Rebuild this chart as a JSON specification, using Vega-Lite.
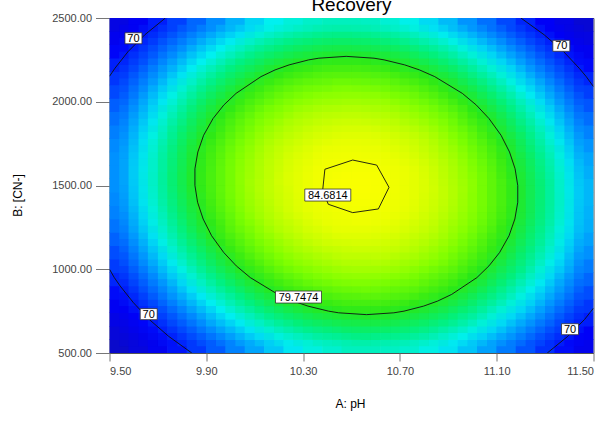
{
"$schema":"https://vega.github.io/schema/vega-lite/v6.json",
"width":484,"height":335,
"autosize":{"type":"none"},
"padding":{"left":109.5,"top":18,"right":11.5,"bottom":76},
"background":"white",
"title":{"text":"Recovery","fontSize":19,"font":"Liberation Sans","fontWeight":"normal","color":"#000","offset":-3,"anchor":"middle"},
"config":{"view":{"stroke":"#555","strokeWidth":1},"axis":{"domain":false,"grid":false,"tickColor":"#777","labelColor":"#444","labelFont":"Liberation Sans","labelFontSize":11,"titleFont":"Liberation Sans","titleFontSize":12,"titleFontWeight":"normal","titleColor":"#000"}},
"encoding":{
"x":{"field":"x","type":"quantitative","scale":{"domain":[9.5,11.5],"nice":false,"zero":false},"axis":{"title":"A: pH","values":[9.5,9.9,10.3,10.7,11.1,11.5],"format":".2f","tickSize":8,"labelPadding":4,"titleX":240.5,"titleY":50,"titleBaseline":"middle"}},
"y":{"field":"y","type":"quantitative","scale":{"domain":[500,2500],"nice":false,"zero":false},"axis":{"title":"B: [CN-]","values":[500,1000,1500,2000,2500],"format":".2f","tickSize":14,"labelPadding":4,"titleX":-92.5,"titleY":177,"titleBaseline":"middle","titleAlign":"center","titleAngle":-90}},
"color":{"field":"v","type":"quantitative","legend":null,"scale":{"domain":[62,69,72,74,76,78,80,82,83.2,84.3,85],"range":["#1010b0","#0000f8","#0050ff","#0098ff","#00f0f0","#00f080","#28e818","#80ff00","#b8ff00","#e8ff00","#fcff00"],"interpolate":"rgb"}}
},
"layer":[
{"data":{"values":[
{"x":9.54,"y":540,"v":64.6},{"x":9.62,"y":540,"v":66.4},{"x":9.70,"y":540,"v":68.1},{"x":9.78,"y":540,"v":69.7},{"x":9.86,"y":540,"v":71.1},{"x":9.94,"y":540,"v":72.3},{"x":10.02,"y":540,"v":73.4},{"x":10.10,"y":540,"v":74.3},{"x":10.18,"y":540,"v":75.1},{"x":10.26,"y":540,"v":75.8},{"x":10.34,"y":540,"v":76.3},{"x":10.42,"y":540,"v":76.6},{"x":10.50,"y":540,"v":76.9},{"x":10.58,"y":540,"v":76.9},{"x":10.66,"y":540,"v":76.8},{"x":10.74,"y":540,"v":76.6},{"x":10.82,"y":540,"v":76.2},{"x":10.90,"y":540,"v":75.7},{"x":10.98,"y":540,"v":75.0},{"x":11.06,"y":540,"v":74.2},{"x":11.14,"y":540,"v":73.2},{"x":11.22,"y":540,"v":72.1},{"x":11.30,"y":540,"v":70.8},{"x":11.38,"y":540,"v":69.4},{"x":11.46,"y":540,"v":67.8},
{"x":9.54,"y":620,"v":66.0},{"x":9.62,"y":620,"v":67.8},{"x":9.70,"y":620,"v":69.5},{"x":9.78,"y":620,"v":71.0},{"x":9.86,"y":620,"v":72.4},{"x":9.94,"y":620,"v":73.6},{"x":10.02,"y":620,"v":74.7},{"x":10.10,"y":620,"v":75.7},{"x":10.18,"y":620,"v":76.5},{"x":10.26,"y":620,"v":77.1},{"x":10.34,"y":620,"v":77.6},{"x":10.42,"y":620,"v":77.9},{"x":10.50,"y":620,"v":78.2},{"x":10.58,"y":620,"v":78.2},{"x":10.66,"y":620,"v":78.1},{"x":10.74,"y":620,"v":77.9},{"x":10.82,"y":620,"v":77.5},{"x":10.90,"y":620,"v":76.9},{"x":10.98,"y":620,"v":76.2},{"x":11.06,"y":620,"v":75.4},{"x":11.14,"y":620,"v":74.4},{"x":11.22,"y":620,"v":73.3},{"x":11.30,"y":620,"v":72.0},{"x":11.38,"y":620,"v":70.6},{"x":11.46,"y":620,"v":69.0},
{"x":9.54,"y":700,"v":67.2},{"x":9.62,"y":700,"v":69.1},{"x":9.70,"y":700,"v":70.7},{"x":9.78,"y":700,"v":72.3},{"x":9.86,"y":700,"v":73.6},{"x":9.94,"y":700,"v":74.9},{"x":10.02,"y":700,"v":75.9},{"x":10.10,"y":700,"v":76.9},{"x":10.18,"y":700,"v":77.7},{"x":10.26,"y":700,"v":78.3},{"x":10.34,"y":700,"v":78.8},{"x":10.42,"y":700,"v":79.1},{"x":10.50,"y":700,"v":79.3},{"x":10.58,"y":700,"v":79.4},{"x":10.66,"y":700,"v":79.3},{"x":10.74,"y":700,"v":79.0},{"x":10.82,"y":700,"v":78.6},{"x":10.90,"y":700,"v":78.1},{"x":10.98,"y":700,"v":77.4},{"x":11.06,"y":700,"v":76.5},{"x":11.14,"y":700,"v":75.5},{"x":11.22,"y":700,"v":74.4},{"x":11.30,"y":700,"v":73.1},{"x":11.38,"y":700,"v":71.6},{"x":11.46,"y":700,"v":70.1},
{"x":9.54,"y":780,"v":68.4},{"x":9.62,"y":780,"v":70.2},{"x":9.70,"y":780,"v":71.9},{"x":9.78,"y":780,"v":73.4},{"x":9.86,"y":780,"v":74.8},{"x":9.94,"y":780,"v":76.0},{"x":10.02,"y":780,"v":77.1},{"x":10.10,"y":780,"v":78.0},{"x":10.18,"y":780,"v":78.8},{"x":10.26,"y":780,"v":79.4},{"x":10.34,"y":780,"v":79.9},{"x":10.42,"y":780,"v":80.2},{"x":10.50,"y":780,"v":80.4},{"x":10.58,"y":780,"v":80.4},{"x":10.66,"y":780,"v":80.3},{"x":10.74,"y":780,"v":80.0},{"x":10.82,"y":780,"v":79.6},{"x":10.90,"y":780,"v":79.1},{"x":10.98,"y":780,"v":78.4},{"x":11.06,"y":780,"v":77.5},{"x":11.14,"y":780,"v":76.5},{"x":11.22,"y":780,"v":75.4},{"x":11.30,"y":780,"v":74.1},{"x":11.38,"y":780,"v":72.6},{"x":11.46,"y":780,"v":71.0},
{"x":9.54,"y":860,"v":69.4},{"x":9.62,"y":860,"v":71.2},{"x":9.70,"y":860,"v":72.9},{"x":9.78,"y":860,"v":74.4},{"x":9.86,"y":860,"v":75.8},{"x":9.94,"y":860,"v":77.0},{"x":10.02,"y":860,"v":78.0},{"x":10.10,"y":860,"v":79.0},{"x":10.18,"y":860,"v":79.7},{"x":10.26,"y":860,"v":80.4},{"x":10.34,"y":860,"v":80.8},{"x":10.42,"y":860,"v":81.1},{"x":10.50,"y":860,"v":81.3},{"x":10.58,"y":860,"v":81.4},{"x":10.66,"y":860,"v":81.2},{"x":10.74,"y":860,"v":81.0},{"x":10.82,"y":860,"v":80.5},{"x":10.90,"y":860,"v":80.0},{"x":10.98,"y":860,"v":79.3},{"x":11.06,"y":860,"v":78.4},{"x":11.14,"y":860,"v":77.4},{"x":11.22,"y":860,"v":76.2},{"x":11.30,"y":860,"v":74.9},{"x":11.38,"y":860,"v":73.5},{"x":11.46,"y":860,"v":71.9},
{"x":9.54,"y":940,"v":70.4},{"x":9.62,"y":940,"v":72.2},{"x":9.70,"y":940,"v":73.8},{"x":9.78,"y":940,"v":75.3},{"x":9.86,"y":940,"v":76.7},{"x":9.94,"y":940,"v":77.9},{"x":10.02,"y":940,"v":78.9},{"x":10.10,"y":940,"v":79.8},{"x":10.18,"y":940,"v":80.6},{"x":10.26,"y":940,"v":81.2},{"x":10.34,"y":940,"v":81.7},{"x":10.42,"y":940,"v":82.0},{"x":10.50,"y":940,"v":82.2},{"x":10.58,"y":940,"v":82.2},{"x":10.66,"y":940,"v":82.0},{"x":10.74,"y":940,"v":81.8},{"x":10.82,"y":940,"v":81.3},{"x":10.90,"y":940,"v":80.8},{"x":10.98,"y":940,"v":80.0},{"x":11.06,"y":940,"v":79.2},{"x":11.14,"y":940,"v":78.2},{"x":11.22,"y":940,"v":77.0},{"x":11.30,"y":940,"v":75.7},{"x":11.38,"y":940,"v":74.2},{"x":11.46,"y":940,"v":72.6},
{"x":9.54,"y":1020,"v":71.2},{"x":9.62,"y":1020,"v":73.0},{"x":9.70,"y":1020,"v":74.6},{"x":9.78,"y":1020,"v":76.1},{"x":9.86,"y":1020,"v":77.5},{"x":9.94,"y":1020,"v":78.7},{"x":10.02,"y":1020,"v":79.7},{"x":10.10,"y":1020,"v":80.6},{"x":10.18,"y":1020,"v":81.4},{"x":10.26,"y":1020,"v":82.0},{"x":10.34,"y":1020,"v":82.4},{"x":10.42,"y":1020,"v":82.7},{"x":10.50,"y":1020,"v":82.9},{"x":10.58,"y":1020,"v":82.9},{"x":10.66,"y":1020,"v":82.8},{"x":10.74,"y":1020,"v":82.5},{"x":10.82,"y":1020,"v":82.0},{"x":10.90,"y":1020,"v":81.5},{"x":10.98,"y":1020,"v":80.7},{"x":11.06,"y":1020,"v":79.8},{"x":11.14,"y":1020,"v":78.8},{"x":11.22,"y":1020,"v":77.7},{"x":11.30,"y":1020,"v":76.3},{"x":11.38,"y":1020,"v":74.9},{"x":11.46,"y":1020,"v":73.2},
{"x":9.54,"y":1100,"v":71.9},{"x":9.62,"y":1100,"v":73.7},{"x":9.70,"y":1100,"v":75.3},{"x":9.78,"y":1100,"v":76.8},{"x":9.86,"y":1100,"v":78.1},{"x":9.94,"y":1100,"v":79.3},{"x":10.02,"y":1100,"v":80.4},{"x":10.10,"y":1100,"v":81.3},{"x":10.18,"y":1100,"v":82.0},{"x":10.26,"y":1100,"v":82.6},{"x":10.34,"y":1100,"v":83.0},{"x":10.42,"y":1100,"v":83.3},{"x":10.50,"y":1100,"v":83.5},{"x":10.58,"y":1100,"v":83.5},{"x":10.66,"y":1100,"v":83.4},{"x":10.74,"y":1100,"v":83.1},{"x":10.82,"y":1100,"v":82.6},{"x":10.90,"y":1100,"v":82.0},{"x":10.98,"y":1100,"v":81.3},{"x":11.06,"y":1100,"v":80.4},{"x":11.14,"y":1100,"v":79.4},{"x":11.22,"y":1100,"v":78.2},{"x":11.30,"y":1100,"v":76.9},{"x":11.38,"y":1100,"v":75.4},{"x":11.46,"y":1100,"v":73.8},
{"x":9.54,"y":1180,"v":72.5},{"x":9.62,"y":1180,"v":74.3},{"x":9.70,"y":1180,"v":75.9},{"x":9.78,"y":1180,"v":77.4},{"x":9.86,"y":1180,"v":78.7},{"x":9.94,"y":1180,"v":79.9},{"x":10.02,"y":1180,"v":80.9},{"x":10.10,"y":1180,"v":81.8},{"x":10.18,"y":1180,"v":82.5},{"x":10.26,"y":1180,"v":83.1},{"x":10.34,"y":1180,"v":83.6},{"x":10.42,"y":1180,"v":83.9},{"x":10.50,"y":1180,"v":84.0},{"x":10.58,"y":1180,"v":84.0},{"x":10.66,"y":1180,"v":83.8},{"x":10.74,"y":1180,"v":83.5},{"x":10.82,"y":1180,"v":83.1},{"x":10.90,"y":1180,"v":82.5},{"x":10.98,"y":1180,"v":81.7},{"x":11.06,"y":1180,"v":80.8},{"x":11.14,"y":1180,"v":79.8},{"x":11.22,"y":1180,"v":78.6},{"x":11.30,"y":1180,"v":77.3},{"x":11.38,"y":1180,"v":75.8},{"x":11.46,"y":1180,"v":74.2},
{"x":9.54,"y":1260,"v":73.0},{"x":9.62,"y":1260,"v":74.8},{"x":9.70,"y":1260,"v":76.4},{"x":9.78,"y":1260,"v":77.8},{"x":9.86,"y":1260,"v":79.2},{"x":9.94,"y":1260,"v":80.3},{"x":10.02,"y":1260,"v":81.4},{"x":10.10,"y":1260,"v":82.2},{"x":10.18,"y":1260,"v":83.0},{"x":10.26,"y":1260,"v":83.5},{"x":10.34,"y":1260,"v":84.0},{"x":10.42,"y":1260,"v":84.3},{"x":10.50,"y":1260,"v":84.4},{"x":10.58,"y":1260,"v":84.4},{"x":10.66,"y":1260,"v":84.2},{"x":10.74,"y":1260,"v":83.9},{"x":10.82,"y":1260,"v":83.5},{"x":10.90,"y":1260,"v":82.8},{"x":10.98,"y":1260,"v":82.1},{"x":11.06,"y":1260,"v":81.2},{"x":11.14,"y":1260,"v":80.1},{"x":11.22,"y":1260,"v":78.9},{"x":11.30,"y":1260,"v":77.6},{"x":11.38,"y":1260,"v":76.1},{"x":11.46,"y":1260,"v":74.5},
{"x":9.54,"y":1340,"v":73.4},{"x":9.62,"y":1340,"v":75.1},{"x":9.70,"y":1340,"v":76.7},{"x":9.78,"y":1340,"v":78.2},{"x":9.86,"y":1340,"v":79.5},{"x":9.94,"y":1340,"v":80.7},{"x":10.02,"y":1340,"v":81.7},{"x":10.10,"y":1340,"v":82.6},{"x":10.18,"y":1340,"v":83.3},{"x":10.26,"y":1340,"v":83.9},{"x":10.34,"y":1340,"v":84.3},{"x":10.42,"y":1340,"v":84.5},{"x":10.50,"y":1340,"v":84.7},{"x":10.58,"y":1340,"v":84.6},{"x":10.66,"y":1340,"v":84.5},{"x":10.74,"y":1340,"v":84.2},{"x":10.82,"y":1340,"v":83.7},{"x":10.90,"y":1340,"v":83.1},{"x":10.98,"y":1340,"v":82.3},{"x":11.06,"y":1340,"v":81.4},{"x":11.14,"y":1340,"v":80.4},{"x":11.22,"y":1340,"v":79.2},{"x":11.30,"y":1340,"v":77.8},{"x":11.38,"y":1340,"v":76.3},{"x":11.46,"y":1340,"v":74.6},
{"x":9.54,"y":1420,"v":73.6},{"x":9.62,"y":1420,"v":75.4},{"x":9.70,"y":1420,"v":77.0},{"x":9.78,"y":1420,"v":78.4},{"x":9.86,"y":1420,"v":79.7},{"x":9.94,"y":1420,"v":80.9},{"x":10.02,"y":1420,"v":81.9},{"x":10.10,"y":1420,"v":82.8},{"x":10.18,"y":1420,"v":83.5},{"x":10.26,"y":1420,"v":84.0},{"x":10.34,"y":1420,"v":84.4},{"x":10.42,"y":1420,"v":84.7},{"x":10.50,"y":1420,"v":84.8},{"x":10.58,"y":1420,"v":84.8},{"x":10.66,"y":1420,"v":84.6},{"x":10.74,"y":1420,"v":84.3},{"x":10.82,"y":1420,"v":83.8},{"x":10.90,"y":1420,"v":83.2},{"x":10.98,"y":1420,"v":82.4},{"x":11.06,"y":1420,"v":81.5},{"x":11.14,"y":1420,"v":80.5},{"x":11.22,"y":1420,"v":79.2},{"x":11.30,"y":1420,"v":77.9},{"x":11.38,"y":1420,"v":76.4},{"x":11.46,"y":1420,"v":74.7},
{"x":9.54,"y":1500,"v":73.8},{"x":9.62,"y":1500,"v":75.5},{"x":9.70,"y":1500,"v":77.1},{"x":9.78,"y":1500,"v":78.6},{"x":9.86,"y":1500,"v":79.9},{"x":9.94,"y":1500,"v":81.0},{"x":10.02,"y":1500,"v":82.0},{"x":10.10,"y":1500,"v":82.9},{"x":10.18,"y":1500,"v":83.6},{"x":10.26,"y":1500,"v":84.1},{"x":10.34,"y":1500,"v":84.5},{"x":10.42,"y":1500,"v":84.8},{"x":10.50,"y":1500,"v":84.9},{"x":10.58,"y":1500,"v":84.9},{"x":10.66,"y":1500,"v":84.7},{"x":10.74,"y":1500,"v":84.3},{"x":10.82,"y":1500,"v":83.9},{"x":10.90,"y":1500,"v":83.2},{"x":10.98,"y":1500,"v":82.5},{"x":11.06,"y":1500,"v":81.5},{"x":11.14,"y":1500,"v":80.5},{"x":11.22,"y":1500,"v":79.2},{"x":11.30,"y":1500,"v":77.9},{"x":11.38,"y":1500,"v":76.3},{"x":11.46,"y":1500,"v":74.7},
{"x":9.54,"y":1580,"v":73.8},{"x":9.62,"y":1580,"v":75.6},{"x":9.70,"y":1580,"v":77.1},{"x":9.78,"y":1580,"v":78.6},{"x":9.86,"y":1580,"v":79.9},{"x":9.94,"y":1580,"v":81.0},{"x":10.02,"y":1580,"v":82.0},{"x":10.10,"y":1580,"v":82.8},{"x":10.18,"y":1580,"v":83.5},{"x":10.26,"y":1580,"v":84.1},{"x":10.34,"y":1580,"v":84.5},{"x":10.42,"y":1580,"v":84.7},{"x":10.50,"y":1580,"v":84.8},{"x":10.58,"y":1580,"v":84.8},{"x":10.66,"y":1580,"v":84.6},{"x":10.74,"y":1580,"v":84.3},{"x":10.82,"y":1580,"v":83.8},{"x":10.90,"y":1580,"v":83.1},{"x":10.98,"y":1580,"v":82.3},{"x":11.06,"y":1580,"v":81.4},{"x":11.14,"y":1580,"v":80.3},{"x":11.22,"y":1580,"v":79.1},{"x":11.30,"y":1580,"v":77.7},{"x":11.38,"y":1580,"v":76.2},{"x":11.46,"y":1580,"v":74.5},
{"x":9.54,"y":1660,"v":73.8},{"x":9.62,"y":1660,"v":75.5},{"x":9.70,"y":1660,"v":77.1},{"x":9.78,"y":1660,"v":78.5},{"x":9.86,"y":1660,"v":79.8},{"x":9.94,"y":1660,"v":80.9},{"x":10.02,"y":1660,"v":81.9},{"x":10.10,"y":1660,"v":82.7},{"x":10.18,"y":1660,"v":83.4},{"x":10.26,"y":1660,"v":84.0},{"x":10.34,"y":1660,"v":84.3},{"x":10.42,"y":1660,"v":84.6},{"x":10.50,"y":1660,"v":84.7},{"x":10.58,"y":1660,"v":84.6},{"x":10.66,"y":1660,"v":84.4},{"x":10.74,"y":1660,"v":84.1},{"x":10.82,"y":1660,"v":83.6},{"x":10.90,"y":1660,"v":82.9},{"x":10.98,"y":1660,"v":82.1},{"x":11.06,"y":1660,"v":81.2},{"x":11.14,"y":1660,"v":80.1},{"x":11.22,"y":1660,"v":78.9},{"x":11.30,"y":1660,"v":77.5},{"x":11.38,"y":1660,"v":75.9},{"x":11.46,"y":1660,"v":74.3},
{"x":9.54,"y":1740,"v":73.6},{"x":9.62,"y":1740,"v":75.3},{"x":9.70,"y":1740,"v":76.9},{"x":9.78,"y":1740,"v":78.3},{"x":9.86,"y":1740,"v":79.6},{"x":9.94,"y":1740,"v":80.7},{"x":10.02,"y":1740,"v":81.7},{"x":10.10,"y":1740,"v":82.5},{"x":10.18,"y":1740,"v":83.2},{"x":10.26,"y":1740,"v":83.7},{"x":10.34,"y":1740,"v":84.1},{"x":10.42,"y":1740,"v":84.3},{"x":10.50,"y":1740,"v":84.4},{"x":10.58,"y":1740,"v":84.3},{"x":10.66,"y":1740,"v":84.1},{"x":10.74,"y":1740,"v":83.8},{"x":10.82,"y":1740,"v":83.3},{"x":10.90,"y":1740,"v":82.6},{"x":10.98,"y":1740,"v":81.8},{"x":11.06,"y":1740,"v":80.9},{"x":11.14,"y":1740,"v":79.8},{"x":11.22,"y":1740,"v":78.5},{"x":11.30,"y":1740,"v":77.1},{"x":11.38,"y":1740,"v":75.6},{"x":11.46,"y":1740,"v":73.9},
{"x":9.54,"y":1820,"v":73.3},{"x":9.62,"y":1820,"v":75.0},{"x":9.70,"y":1820,"v":76.5},{"x":9.78,"y":1820,"v":78.0},{"x":9.86,"y":1820,"v":79.2},{"x":9.94,"y":1820,"v":80.3},{"x":10.02,"y":1820,"v":81.3},{"x":10.10,"y":1820,"v":82.1},{"x":10.18,"y":1820,"v":82.8},{"x":10.26,"y":1820,"v":83.3},{"x":10.34,"y":1820,"v":83.7},{"x":10.42,"y":1820,"v":83.9},{"x":10.50,"y":1820,"v":84.0},{"x":10.58,"y":1820,"v":84.0},{"x":10.66,"y":1820,"v":83.7},{"x":10.74,"y":1820,"v":83.4},{"x":10.82,"y":1820,"v":82.9},{"x":10.90,"y":1820,"v":82.2},{"x":10.98,"y":1820,"v":81.4},{"x":11.06,"y":1820,"v":80.4},{"x":11.14,"y":1820,"v":79.3},{"x":11.22,"y":1820,"v":78.1},{"x":11.30,"y":1820,"v":76.7},{"x":11.38,"y":1820,"v":75.1},{"x":11.46,"y":1820,"v":73.4},
{"x":9.54,"y":1900,"v":72.9},{"x":9.62,"y":1900,"v":74.6},{"x":9.70,"y":1900,"v":76.1},{"x":9.78,"y":1900,"v":77.5},{"x":9.86,"y":1900,"v":78.8},{"x":9.94,"y":1900,"v":79.9},{"x":10.02,"y":1900,"v":80.9},{"x":10.10,"y":1900,"v":81.7},{"x":10.18,"y":1900,"v":82.3},{"x":10.26,"y":1900,"v":82.9},{"x":10.34,"y":1900,"v":83.2},{"x":10.42,"y":1900,"v":83.4},{"x":10.50,"y":1900,"v":83.5},{"x":10.58,"y":1900,"v":83.4},{"x":10.66,"y":1900,"v":83.2},{"x":10.74,"y":1900,"v":82.8},{"x":10.82,"y":1900,"v":82.3},{"x":10.90,"y":1900,"v":81.7},{"x":10.98,"y":1900,"v":80.8},{"x":11.06,"y":1900,"v":79.9},{"x":11.14,"y":1900,"v":78.8},{"x":11.22,"y":1900,"v":77.5},{"x":11.30,"y":1900,"v":76.1},{"x":11.38,"y":1900,"v":74.5},{"x":11.46,"y":1900,"v":72.8},
{"x":9.54,"y":1980,"v":72.4},{"x":9.62,"y":1980,"v":74.1},{"x":9.70,"y":1980,"v":75.6},{"x":9.78,"y":1980,"v":77.0},{"x":9.86,"y":1980,"v":78.3},{"x":9.94,"y":1980,"v":79.4},{"x":10.02,"y":1980,"v":80.3},{"x":10.10,"y":1980,"v":81.1},{"x":10.18,"y":1980,"v":81.8},{"x":10.26,"y":1980,"v":82.3},{"x":10.34,"y":1980,"v":82.6},{"x":10.42,"y":1980,"v":82.8},{"x":10.50,"y":1980,"v":82.9},{"x":10.58,"y":1980,"v":82.8},{"x":10.66,"y":1980,"v":82.6},{"x":10.74,"y":1980,"v":82.2},{"x":10.82,"y":1980,"v":81.7},{"x":10.90,"y":1980,"v":81.0},{"x":10.98,"y":1980,"v":80.2},{"x":11.06,"y":1980,"v":79.2},{"x":11.14,"y":1980,"v":78.1},{"x":11.22,"y":1980,"v":76.8},{"x":11.30,"y":1980,"v":75.4},{"x":11.38,"y":1980,"v":73.8},{"x":11.46,"y":1980,"v":72.1},
{"x":9.54,"y":2060,"v":71.7},{"x":9.62,"y":2060,"v":73.4},{"x":9.70,"y":2060,"v":75.0},{"x":9.78,"y":2060,"v":76.4},{"x":9.86,"y":2060,"v":77.6},{"x":9.94,"y":2060,"v":78.7},{"x":10.02,"y":2060,"v":79.6},{"x":10.10,"y":2060,"v":80.4},{"x":10.18,"y":2060,"v":81.1},{"x":10.26,"y":2060,"v":81.6},{"x":10.34,"y":2060,"v":81.9},{"x":10.42,"y":2060,"v":82.1},{"x":10.50,"y":2060,"v":82.2},{"x":10.58,"y":2060,"v":82.1},{"x":10.66,"y":2060,"v":81.8},{"x":10.74,"y":2060,"v":81.5},{"x":10.82,"y":2060,"v":80.9},{"x":10.90,"y":2060,"v":80.2},{"x":10.98,"y":2060,"v":79.4},{"x":11.06,"y":2060,"v":78.4},{"x":11.14,"y":2060,"v":77.3},{"x":11.22,"y":2060,"v":76.0},{"x":11.30,"y":2060,"v":74.6},{"x":11.38,"y":2060,"v":73.0},{"x":11.46,"y":2060,"v":71.3},
{"x":9.54,"y":2140,"v":71.0},{"x":9.62,"y":2140,"v":72.7},{"x":9.70,"y":2140,"v":74.2},{"x":9.78,"y":2140,"v":75.6},{"x":9.86,"y":2140,"v":76.8},{"x":9.94,"y":2140,"v":77.9},{"x":10.02,"y":2140,"v":78.8},{"x":10.10,"y":2140,"v":79.6},{"x":10.18,"y":2140,"v":80.3},{"x":10.26,"y":2140,"v":80.8},{"x":10.34,"y":2140,"v":81.1},{"x":10.42,"y":2140,"v":81.3},{"x":10.50,"y":2140,"v":81.3},{"x":10.58,"y":2140,"v":81.2},{"x":10.66,"y":2140,"v":81.0},{"x":10.74,"y":2140,"v":80.6},{"x":10.82,"y":2140,"v":80.1},{"x":10.90,"y":2140,"v":79.4},{"x":10.98,"y":2140,"v":78.5},{"x":11.06,"y":2140,"v":77.5},{"x":11.14,"y":2140,"v":76.4},{"x":11.22,"y":2140,"v":75.1},{"x":11.30,"y":2140,"v":73.7},{"x":11.38,"y":2140,"v":72.1},{"x":11.46,"y":2140,"v":70.4},
{"x":9.54,"y":2220,"v":70.2},{"x":9.62,"y":2220,"v":71.8},{"x":9.70,"y":2220,"v":73.4},{"x":9.78,"y":2220,"v":74.7},{"x":9.86,"y":2220,"v":76.0},{"x":9.94,"y":2220,"v":77.0},{"x":10.02,"y":2220,"v":78.0},{"x":10.10,"y":2220,"v":78.7},{"x":10.18,"y":2220,"v":79.4},{"x":10.26,"y":2220,"v":79.9},{"x":10.34,"y":2220,"v":80.2},{"x":10.42,"y":2220,"v":80.4},{"x":10.50,"y":2220,"v":80.4},{"x":10.58,"y":2220,"v":80.3},{"x":10.66,"y":2220,"v":80.0},{"x":10.74,"y":2220,"v":79.6},{"x":10.82,"y":2220,"v":79.1},{"x":10.90,"y":2220,"v":78.4},{"x":10.98,"y":2220,"v":77.5},{"x":11.06,"y":2220,"v":76.5},{"x":11.14,"y":2220,"v":75.4},{"x":11.22,"y":2220,"v":74.1},{"x":11.30,"y":2220,"v":72.7},{"x":11.38,"y":2220,"v":71.1},{"x":11.46,"y":2220,"v":69.3},
{"x":9.54,"y":2300,"v":69.2},{"x":9.62,"y":2300,"v":70.9},{"x":9.70,"y":2300,"v":72.4},{"x":9.78,"y":2300,"v":73.7},{"x":9.86,"y":2300,"v":75.0},{"x":9.94,"y":2300,"v":76.0},{"x":10.02,"y":2300,"v":76.9},{"x":10.10,"y":2300,"v":77.7},{"x":10.18,"y":2300,"v":78.3},{"x":10.26,"y":2300,"v":78.8},{"x":10.34,"y":2300,"v":79.1},{"x":10.42,"y":2300,"v":79.3},{"x":10.50,"y":2300,"v":79.3},{"x":10.58,"y":2300,"v":79.2},{"x":10.66,"y":2300,"v":79.0},{"x":10.74,"y":2300,"v":78.6},{"x":10.82,"y":2300,"v":78.0},{"x":10.90,"y":2300,"v":77.3},{"x":10.98,"y":2300,"v":76.4},{"x":11.06,"y":2300,"v":75.4},{"x":11.14,"y":2300,"v":74.3},{"x":11.22,"y":2300,"v":73.0},{"x":11.30,"y":2300,"v":71.5},{"x":11.38,"y":2300,"v":69.9},{"x":11.46,"y":2300,"v":68.2},
{"x":9.54,"y":2380,"v":68.1},{"x":9.62,"y":2380,"v":69.8},{"x":9.70,"y":2380,"v":71.3},{"x":9.78,"y":2380,"v":72.6},{"x":9.86,"y":2380,"v":73.9},{"x":9.94,"y":2380,"v":74.9},{"x":10.02,"y":2380,"v":75.8},{"x":10.10,"y":2380,"v":76.6},{"x":10.18,"y":2380,"v":77.2},{"x":10.26,"y":2380,"v":77.7},{"x":10.34,"y":2380,"v":78.0},{"x":10.42,"y":2380,"v":78.2},{"x":10.50,"y":2380,"v":78.2},{"x":10.58,"y":2380,"v":78.1},{"x":10.66,"y":2380,"v":77.8},{"x":10.74,"y":2380,"v":77.4},{"x":10.82,"y":2380,"v":76.8},{"x":10.90,"y":2380,"v":76.1},{"x":10.98,"y":2380,"v":75.2},{"x":11.06,"y":2380,"v":74.2},{"x":11.14,"y":2380,"v":73.0},{"x":11.22,"y":2380,"v":71.7},{"x":11.30,"y":2380,"v":70.3},{"x":11.38,"y":2380,"v":68.7},{"x":11.46,"y":2380,"v":66.9},
{"x":9.54,"y":2460,"v":67.0},{"x":9.62,"y":2460,"v":68.6},{"x":9.70,"y":2460,"v":70.1},{"x":9.78,"y":2460,"v":71.4},{"x":9.86,"y":2460,"v":72.6},{"x":9.94,"y":2460,"v":73.7},{"x":10.02,"y":2460,"v":74.6},{"x":10.10,"y":2460,"v":75.4},{"x":10.18,"y":2460,"v":76.0},{"x":10.26,"y":2460,"v":76.4},{"x":10.34,"y":2460,"v":76.7},{"x":10.42,"y":2460,"v":76.9},{"x":10.50,"y":2460,"v":76.9},{"x":10.58,"y":2460,"v":76.8},{"x":10.66,"y":2460,"v":76.5},{"x":10.74,"y":2460,"v":76.1},{"x":10.82,"y":2460,"v":75.5},{"x":10.90,"y":2460,"v":74.8},{"x":10.98,"y":2460,"v":73.9},{"x":11.06,"y":2460,"v":72.9},{"x":11.14,"y":2460,"v":71.7},{"x":11.22,"y":2460,"v":70.4},{"x":11.30,"y":2460,"v":68.9},{"x":11.38,"y":2460,"v":67.3},{"x":11.46,"y":2460,"v":65.5}
]},
"mark":{"type":"rect","width":20,"height":14,"clip":true}},
{"data":{"values":[
{"x":9.58,"y":580,"v":66.2},{"x":9.66,"y":580,"v":68.0},{"x":9.74,"y":580,"v":69.6},{"x":9.82,"y":580,"v":71.1},{"x":9.90,"y":580,"v":72.4},{"x":9.98,"y":580,"v":73.5},{"x":10.06,"y":580,"v":74.6},{"x":10.14,"y":580,"v":75.4},{"x":10.22,"y":580,"v":76.2},{"x":10.30,"y":580,"v":76.7},{"x":10.38,"y":580,"v":77.2},{"x":10.46,"y":580,"v":77.4},{"x":10.54,"y":580,"v":77.6},{"x":10.62,"y":580,"v":77.5},{"x":10.70,"y":580,"v":77.4},{"x":10.78,"y":580,"v":77.1},{"x":10.86,"y":580,"v":76.6},{"x":10.94,"y":580,"v":76.0},{"x":11.02,"y":580,"v":75.2},{"x":11.10,"y":580,"v":74.3},{"x":11.18,"y":580,"v":73.3},{"x":11.26,"y":580,"v":72.1},{"x":11.34,"y":580,"v":70.7},{"x":11.42,"y":580,"v":69.2},
{"x":9.58,"y":660,"v":67.5},{"x":9.66,"y":660,"v":69.3},{"x":9.74,"y":660,"v":70.9},{"x":9.82,"y":660,"v":72.4},{"x":9.90,"y":660,"v":73.7},{"x":9.98,"y":660,"v":74.8},{"x":10.06,"y":660,"v":75.8},{"x":10.14,"y":660,"v":76.7},{"x":10.22,"y":660,"v":77.4},{"x":10.30,"y":660,"v":78.0},{"x":10.38,"y":660,"v":78.4},{"x":10.46,"y":660,"v":78.7},{"x":10.54,"y":660,"v":78.8},{"x":10.62,"y":660,"v":78.8},{"x":10.70,"y":660,"v":78.6},{"x":10.78,"y":660,"v":78.3},{"x":10.86,"y":660,"v":77.8},{"x":10.94,"y":660,"v":77.2},{"x":11.02,"y":660,"v":76.4},{"x":11.10,"y":660,"v":75.5},{"x":11.18,"y":660,"v":74.4},{"x":11.26,"y":660,"v":73.2},{"x":11.34,"y":660,"v":71.9},{"x":11.42,"y":660,"v":70.3},
{"x":9.58,"y":740,"v":68.8},{"x":9.66,"y":740,"v":70.5},{"x":9.74,"y":740,"v":72.1},{"x":9.82,"y":740,"v":73.5},{"x":9.90,"y":740,"v":74.8},{"x":9.98,"y":740,"v":76.0},{"x":10.06,"y":740,"v":77.0},{"x":10.14,"y":740,"v":77.9},{"x":10.22,"y":740,"v":78.6},{"x":10.30,"y":740,"v":79.1},{"x":10.38,"y":740,"v":79.5},{"x":10.46,"y":740,"v":79.8},{"x":10.54,"y":740,"v":79.9},{"x":10.62,"y":740,"v":79.9},{"x":10.70,"y":740,"v":79.7},{"x":10.78,"y":740,"v":79.4},{"x":10.86,"y":740,"v":78.9},{"x":10.94,"y":740,"v":78.2},{"x":11.02,"y":740,"v":77.5},{"x":11.10,"y":740,"v":76.5},{"x":11.18,"y":740,"v":75.5},{"x":11.26,"y":740,"v":74.3},{"x":11.34,"y":740,"v":72.9},{"x":11.42,"y":740,"v":71.4},
{"x":9.58,"y":820,"v":69.8},{"x":9.66,"y":820,"v":71.6},{"x":9.74,"y":820,"v":73.2},{"x":9.82,"y":820,"v":74.6},{"x":9.90,"y":820,"v":75.9},{"x":9.98,"y":820,"v":77.0},{"x":10.06,"y":820,"v":78.0},{"x":10.14,"y":820,"v":78.9},{"x":10.22,"y":820,"v":79.6},{"x":10.30,"y":820,"v":80.1},{"x":10.38,"y":820,"v":80.5},{"x":10.46,"y":820,"v":80.8},{"x":10.54,"y":820,"v":80.9},{"x":10.62,"y":820,"v":80.9},{"x":10.70,"y":820,"v":80.7},{"x":10.78,"y":820,"v":80.3},{"x":10.86,"y":820,"v":79.8},{"x":10.94,"y":820,"v":79.2},{"x":11.02,"y":820,"v":78.4},{"x":11.10,"y":820,"v":77.5},{"x":11.18,"y":820,"v":76.4},{"x":11.26,"y":820,"v":75.2},{"x":11.34,"y":820,"v":73.8},{"x":11.42,"y":820,"v":72.3},
{"x":9.58,"y":900,"v":70.8},{"x":9.66,"y":900,"v":72.6},{"x":9.74,"y":900,"v":74.1},{"x":9.82,"y":900,"v":75.6},{"x":9.90,"y":900,"v":76.9},{"x":9.98,"y":900,"v":78.0},{"x":10.06,"y":900,"v":79.0},{"x":10.14,"y":900,"v":79.8},{"x":10.22,"y":900,"v":80.5},{"x":10.30,"y":900,"v":81.0},{"x":10.38,"y":900,"v":81.4},{"x":10.46,"y":900,"v":81.7},{"x":10.54,"y":900,"v":81.8},{"x":10.62,"y":900,"v":81.7},{"x":10.70,"y":900,"v":81.5},{"x":10.78,"y":900,"v":81.2},{"x":10.86,"y":900,"v":80.7},{"x":10.94,"y":900,"v":80.1},{"x":11.02,"y":900,"v":79.3},{"x":11.10,"y":900,"v":78.3},{"x":11.18,"y":900,"v":77.2},{"x":11.26,"y":900,"v":76.0},{"x":11.34,"y":900,"v":74.6},{"x":11.42,"y":900,"v":73.1},
{"x":9.58,"y":980,"v":71.7},{"x":9.66,"y":980,"v":73.4},{"x":9.74,"y":980,"v":75.0},{"x":9.82,"y":980,"v":76.4},{"x":9.90,"y":980,"v":77.7},{"x":9.98,"y":980,"v":78.8},{"x":10.06,"y":980,"v":79.8},{"x":10.14,"y":980,"v":80.6},{"x":10.22,"y":980,"v":81.3},{"x":10.30,"y":980,"v":81.8},{"x":10.38,"y":980,"v":82.2},{"x":10.46,"y":980,"v":82.5},{"x":10.54,"y":980,"v":82.6},{"x":10.62,"y":980,"v":82.5},{"x":10.70,"y":980,"v":82.3},{"x":10.78,"y":980,"v":81.9},{"x":10.86,"y":980,"v":81.4},{"x":10.94,"y":980,"v":80.8},{"x":11.02,"y":980,"v":80.0},{"x":11.10,"y":980,"v":79.0},{"x":11.18,"y":980,"v":78.0},{"x":11.26,"y":980,"v":76.7},{"x":11.34,"y":980,"v":75.3},{"x":11.42,"y":980,"v":73.8},
{"x":9.58,"y":1060,"v":72.5},{"x":9.66,"y":1060,"v":74.2},{"x":9.74,"y":1060,"v":75.7},{"x":9.82,"y":1060,"v":77.2},{"x":9.90,"y":1060,"v":78.4},{"x":9.98,"y":1060,"v":79.5},{"x":10.06,"y":1060,"v":80.5},{"x":10.14,"y":1060,"v":81.3},{"x":10.22,"y":1060,"v":82.0},{"x":10.30,"y":1060,"v":82.5},{"x":10.38,"y":1060,"v":82.9},{"x":10.46,"y":1060,"v":83.2},{"x":10.54,"y":1060,"v":83.2},{"x":10.62,"y":1060,"v":83.2},{"x":10.70,"y":1060,"v":82.9},{"x":10.78,"y":1060,"v":82.6},{"x":10.86,"y":1060,"v":82.1},{"x":10.94,"y":1060,"v":81.4},{"x":11.02,"y":1060,"v":80.6},{"x":11.10,"y":1060,"v":79.6},{"x":11.18,"y":1060,"v":78.5},{"x":11.26,"y":1060,"v":77.3},{"x":11.34,"y":1060,"v":75.9},{"x":11.42,"y":1060,"v":74.3},
{"x":9.58,"y":1140,"v":73.1},{"x":9.66,"y":1140,"v":74.8},{"x":9.74,"y":1140,"v":76.4},{"x":9.82,"y":1140,"v":77.8},{"x":9.90,"y":1140,"v":79.0},{"x":9.98,"y":1140,"v":80.2},{"x":10.06,"y":1140,"v":81.1},{"x":10.14,"y":1140,"v":81.9},{"x":10.22,"y":1140,"v":82.6},{"x":10.30,"y":1140,"v":83.1},{"x":10.38,"y":1140,"v":83.5},{"x":10.46,"y":1140,"v":83.7},{"x":10.54,"y":1140,"v":83.8},{"x":10.62,"y":1140,"v":83.7},{"x":10.70,"y":1140,"v":83.5},{"x":10.78,"y":1140,"v":83.1},{"x":10.86,"y":1140,"v":82.6},{"x":10.94,"y":1140,"v":81.9},{"x":11.02,"y":1140,"v":81.1},{"x":11.10,"y":1140,"v":80.1},{"x":11.18,"y":1140,"v":79.0},{"x":11.26,"y":1140,"v":77.8},{"x":11.34,"y":1140,"v":76.4},{"x":11.42,"y":1140,"v":74.8},
{"x":9.58,"y":1220,"v":73.7},{"x":9.66,"y":1220,"v":75.4},{"x":9.74,"y":1220,"v":76.9},{"x":9.82,"y":1220,"v":78.3},{"x":9.90,"y":1220,"v":79.6},{"x":9.98,"y":1220,"v":80.7},{"x":10.06,"y":1220,"v":81.6},{"x":10.14,"y":1220,"v":82.4},{"x":10.22,"y":1220,"v":83.1},{"x":10.30,"y":1220,"v":83.6},{"x":10.38,"y":1220,"v":83.9},{"x":10.46,"y":1220,"v":84.2},{"x":10.54,"y":1220,"v":84.2},{"x":10.62,"y":1220,"v":84.1},{"x":10.70,"y":1220,"v":83.9},{"x":10.78,"y":1220,"v":83.5},{"x":10.86,"y":1220,"v":83.0},{"x":10.94,"y":1220,"v":82.3},{"x":11.02,"y":1220,"v":81.5},{"x":11.10,"y":1220,"v":80.5},{"x":11.18,"y":1220,"v":79.4},{"x":11.26,"y":1220,"v":78.1},{"x":11.34,"y":1220,"v":76.7},{"x":11.42,"y":1220,"v":75.2},
{"x":9.58,"y":1300,"v":74.1},{"x":9.66,"y":1300,"v":75.8},{"x":9.74,"y":1300,"v":77.3},{"x":9.82,"y":1300,"v":78.7},{"x":9.90,"y":1300,"v":79.9},{"x":9.98,"y":1300,"v":81.0},{"x":10.06,"y":1300,"v":82.0},{"x":10.14,"y":1300,"v":82.8},{"x":10.22,"y":1300,"v":83.4},{"x":10.30,"y":1300,"v":83.9},{"x":10.38,"y":1300,"v":84.3},{"x":10.46,"y":1300,"v":84.5},{"x":10.54,"y":1300,"v":84.6},{"x":10.62,"y":1300,"v":84.5},{"x":10.70,"y":1300,"v":84.2},{"x":10.78,"y":1300,"v":83.8},{"x":10.86,"y":1300,"v":83.3},{"x":10.94,"y":1300,"v":82.6},{"x":11.02,"y":1300,"v":81.8},{"x":11.10,"y":1300,"v":80.8},{"x":11.18,"y":1300,"v":79.7},{"x":11.26,"y":1300,"v":78.4},{"x":11.34,"y":1300,"v":77.0},{"x":11.42,"y":1300,"v":75.4},
{"x":9.58,"y":1380,"v":74.4},{"x":9.66,"y":1380,"v":76.1},{"x":9.74,"y":1380,"v":77.6},{"x":9.82,"y":1380,"v":79.0},{"x":9.90,"y":1380,"v":80.2},{"x":9.98,"y":1380,"v":81.3},{"x":10.06,"y":1380,"v":82.3},{"x":10.14,"y":1380,"v":83.0},{"x":10.22,"y":1380,"v":83.7},{"x":10.30,"y":1380,"v":84.2},{"x":10.38,"y":1380,"v":84.5},{"x":10.46,"y":1380,"v":84.7},{"x":10.54,"y":1380,"v":84.8},{"x":10.62,"y":1380,"v":84.7},{"x":10.70,"y":1380,"v":84.4},{"x":10.78,"y":1380,"v":84.0},{"x":10.86,"y":1380,"v":83.5},{"x":10.94,"y":1380,"v":82.8},{"x":11.02,"y":1380,"v":82.0},{"x":11.10,"y":1380,"v":81.0},{"x":11.18,"y":1380,"v":79.8},{"x":11.26,"y":1380,"v":78.5},{"x":11.34,"y":1380,"v":77.1},{"x":11.42,"y":1380,"v":75.5},
{"x":9.58,"y":1460,"v":74.6},{"x":9.66,"y":1460,"v":76.3},{"x":9.74,"y":1460,"v":77.8},{"x":9.82,"y":1460,"v":79.2},{"x":9.90,"y":1460,"v":80.4},{"x":9.98,"y":1460,"v":81.5},{"x":10.06,"y":1460,"v":82.4},{"x":10.14,"y":1460,"v":83.2},{"x":10.22,"y":1460,"v":83.8},{"x":10.30,"y":1460,"v":84.3},{"x":10.38,"y":1460,"v":84.7},{"x":10.46,"y":1460,"v":84.9},{"x":10.54,"y":1460,"v":84.9},{"x":10.62,"y":1460,"v":84.8},{"x":10.70,"y":1460,"v":84.5},{"x":10.78,"y":1460,"v":84.1},{"x":10.86,"y":1460,"v":83.6},{"x":10.94,"y":1460,"v":82.9},{"x":11.02,"y":1460,"v":82.0},{"x":11.10,"y":1460,"v":81.0},{"x":11.18,"y":1460,"v":79.9},{"x":11.26,"y":1460,"v":78.6},{"x":11.34,"y":1460,"v":77.1},{"x":11.42,"y":1460,"v":75.6},
{"x":9.58,"y":1540,"v":74.7},{"x":9.66,"y":1540,"v":76.4},{"x":9.74,"y":1540,"v":77.9},{"x":9.82,"y":1540,"v":79.3},{"x":9.90,"y":1540,"v":80.5},{"x":9.98,"y":1540,"v":81.5},{"x":10.06,"y":1540,"v":82.5},{"x":10.14,"y":1540,"v":83.2},{"x":10.22,"y":1540,"v":83.9},{"x":10.30,"y":1540,"v":84.3},{"x":10.38,"y":1540,"v":84.7},{"x":10.46,"y":1540,"v":84.9},{"x":10.54,"y":1540,"v":84.9},{"x":10.62,"y":1540,"v":84.8},{"x":10.70,"y":1540,"v":84.5},{"x":10.78,"y":1540,"v":84.1},{"x":10.86,"y":1540,"v":83.5},{"x":10.94,"y":1540,"v":82.8},{"x":11.02,"y":1540,"v":82.0},{"x":11.10,"y":1540,"v":81.0},{"x":11.18,"y":1540,"v":79.8},{"x":11.26,"y":1540,"v":78.5},{"x":11.34,"y":1540,"v":77.1},{"x":11.42,"y":1540,"v":75.5},
{"x":9.58,"y":1620,"v":74.7},{"x":9.66,"y":1620,"v":76.3},{"x":9.74,"y":1620,"v":77.8},{"x":9.82,"y":1620,"v":79.2},{"x":9.90,"y":1620,"v":80.4},{"x":9.98,"y":1620,"v":81.5},{"x":10.06,"y":1620,"v":82.4},{"x":10.14,"y":1620,"v":83.2},{"x":10.22,"y":1620,"v":83.8},{"x":10.30,"y":1620,"v":84.2},{"x":10.38,"y":1620,"v":84.6},{"x":10.46,"y":1620,"v":84.7},{"x":10.54,"y":1620,"v":84.8},{"x":10.62,"y":1620,"v":84.6},{"x":10.70,"y":1620,"v":84.4},{"x":10.78,"y":1620,"v":84.0},{"x":10.86,"y":1620,"v":83.4},{"x":10.94,"y":1620,"v":82.7},{"x":11.02,"y":1620,"v":81.8},{"x":11.10,"y":1620,"v":80.8},{"x":11.18,"y":1620,"v":79.6},{"x":11.26,"y":1620,"v":78.3},{"x":11.34,"y":1620,"v":76.9},{"x":11.42,"y":1620,"v":75.3},
{"x":9.58,"y":1700,"v":74.6},{"x":9.66,"y":1700,"v":76.2},{"x":9.74,"y":1700,"v":77.7},{"x":9.82,"y":1700,"v":79.1},{"x":9.90,"y":1700,"v":80.3},{"x":9.98,"y":1700,"v":81.3},{"x":10.06,"y":1700,"v":82.2},{"x":10.14,"y":1700,"v":83.0},{"x":10.22,"y":1700,"v":83.6},{"x":10.30,"y":1700,"v":84.0},{"x":10.38,"y":1700,"v":84.4},{"x":10.46,"y":1700,"v":84.5},{"x":10.54,"y":1700,"v":84.5},{"x":10.62,"y":1700,"v":84.4},{"x":10.70,"y":1700,"v":84.1},{"x":10.78,"y":1700,"v":83.7},{"x":10.86,"y":1700,"v":83.1},{"x":10.94,"y":1700,"v":82.4},{"x":11.02,"y":1700,"v":81.5},{"x":11.10,"y":1700,"v":80.5},{"x":11.18,"y":1700,"v":79.3},{"x":11.26,"y":1700,"v":78.0},{"x":11.34,"y":1700,"v":76.6},{"x":11.42,"y":1700,"v":74.9},
{"x":9.58,"y":1780,"v":74.3},{"x":9.66,"y":1780,"v":76.0},{"x":9.74,"y":1780,"v":77.4},{"x":9.82,"y":1780,"v":78.8},{"x":9.90,"y":1780,"v":80.0},{"x":9.98,"y":1780,"v":81.0},{"x":10.06,"y":1780,"v":81.9},{"x":10.14,"y":1780,"v":82.7},{"x":10.22,"y":1780,"v":83.3},{"x":10.30,"y":1780,"v":83.7},{"x":10.38,"y":1780,"v":84.0},{"x":10.46,"y":1780,"v":84.2},{"x":10.54,"y":1780,"v":84.2},{"x":10.62,"y":1780,"v":84.1},{"x":10.70,"y":1780,"v":83.8},{"x":10.78,"y":1780,"v":83.4},{"x":10.86,"y":1780,"v":82.8},{"x":10.94,"y":1780,"v":82.0},{"x":11.02,"y":1780,"v":81.1},{"x":11.10,"y":1780,"v":80.1},{"x":11.18,"y":1780,"v":79.0},{"x":11.26,"y":1780,"v":77.6},{"x":11.34,"y":1780,"v":76.1},{"x":11.42,"y":1780,"v":74.5},
{"x":9.58,"y":1860,"v":74.0},{"x":9.66,"y":1860,"v":75.6},{"x":9.74,"y":1860,"v":77.1},{"x":9.82,"y":1860,"v":78.4},{"x":9.90,"y":1860,"v":79.6},{"x":9.98,"y":1860,"v":80.6},{"x":10.06,"y":1860,"v":81.5},{"x":10.14,"y":1860,"v":82.3},{"x":10.22,"y":1860,"v":82.9},{"x":10.30,"y":1860,"v":83.3},{"x":10.38,"y":1860,"v":83.6},{"x":10.46,"y":1860,"v":83.8},{"x":10.54,"y":1860,"v":83.8},{"x":10.62,"y":1860,"v":83.6},{"x":10.70,"y":1860,"v":83.3},{"x":10.78,"y":1860,"v":82.9},{"x":10.86,"y":1860,"v":82.3},{"x":10.94,"y":1860,"v":81.5},{"x":11.02,"y":1860,"v":80.6},{"x":11.10,"y":1860,"v":79.6},{"x":11.18,"y":1860,"v":78.4},{"x":11.26,"y":1860,"v":77.1},{"x":11.34,"y":1860,"v":75.6},{"x":11.42,"y":1860,"v":74.0},
{"x":9.58,"y":1940,"v":73.5},{"x":9.66,"y":1940,"v":75.1},{"x":9.74,"y":1940,"v":76.6},{"x":9.82,"y":1940,"v":77.9},{"x":9.90,"y":1940,"v":79.1},{"x":9.98,"y":1940,"v":80.1},{"x":10.06,"y":1940,"v":81.0},{"x":10.14,"y":1940,"v":81.8},{"x":10.22,"y":1940,"v":82.3},{"x":10.30,"y":1940,"v":82.8},{"x":10.38,"y":1940,"v":83.1},{"x":10.46,"y":1940,"v":83.2},{"x":10.54,"y":1940,"v":83.2},{"x":10.62,"y":1940,"v":83.0},{"x":10.70,"y":1940,"v":82.7},{"x":10.78,"y":1940,"v":82.3},{"x":10.86,"y":1940,"v":81.7},{"x":10.94,"y":1940,"v":81.0},{"x":11.02,"y":1940,"v":80.0},{"x":11.10,"y":1940,"v":79.0},{"x":11.18,"y":1940,"v":77.8},{"x":11.26,"y":1940,"v":76.5},{"x":11.34,"y":1940,"v":75.0},{"x":11.42,"y":1940,"v":73.3},
{"x":9.58,"y":2020,"v":72.9},{"x":9.66,"y":2020,"v":74.6},{"x":9.74,"y":2020,"v":76.0},{"x":9.82,"y":2020,"v":77.3},{"x":9.90,"y":2020,"v":78.5},{"x":9.98,"y":2020,"v":79.5},{"x":10.06,"y":2020,"v":80.4},{"x":10.14,"y":2020,"v":81.1},{"x":10.22,"y":2020,"v":81.7},{"x":10.30,"y":2020,"v":82.1},{"x":10.38,"y":2020,"v":82.4},{"x":10.46,"y":2020,"v":82.5},{"x":10.54,"y":2020,"v":82.5},{"x":10.62,"y":2020,"v":82.4},{"x":10.70,"y":2020,"v":82.0},{"x":10.78,"y":2020,"v":81.6},{"x":10.86,"y":2020,"v":81.0},{"x":10.94,"y":2020,"v":80.2},{"x":11.02,"y":2020,"v":79.3},{"x":11.10,"y":2020,"v":78.3},{"x":11.18,"y":2020,"v":77.1},{"x":11.26,"y":2020,"v":75.7},{"x":11.34,"y":2020,"v":74.2},{"x":11.42,"y":2020,"v":72.6},
{"x":9.58,"y":2100,"v":72.3},{"x":9.66,"y":2100,"v":73.9},{"x":9.74,"y":2100,"v":75.3},{"x":9.82,"y":2100,"v":76.6},{"x":9.90,"y":2100,"v":77.8},{"x":9.98,"y":2100,"v":78.8},{"x":10.06,"y":2100,"v":79.7},{"x":10.14,"y":2100,"v":80.4},{"x":10.22,"y":2100,"v":81.0},{"x":10.30,"y":2100,"v":81.4},{"x":10.38,"y":2100,"v":81.6},{"x":10.46,"y":2100,"v":81.8},{"x":10.54,"y":2100,"v":81.7},{"x":10.62,"y":2100,"v":81.6},{"x":10.70,"y":2100,"v":81.2},{"x":10.78,"y":2100,"v":80.8},{"x":10.86,"y":2100,"v":80.2},{"x":10.94,"y":2100,"v":79.4},{"x":11.02,"y":2100,"v":78.5},{"x":11.10,"y":2100,"v":77.4},{"x":11.18,"y":2100,"v":76.2},{"x":11.26,"y":2100,"v":74.9},{"x":11.34,"y":2100,"v":73.4},{"x":11.42,"y":2100,"v":71.7},
{"x":9.58,"y":2180,"v":71.5},{"x":9.66,"y":2180,"v":73.1},{"x":9.74,"y":2180,"v":74.5},{"x":9.82,"y":2180,"v":75.8},{"x":9.90,"y":2180,"v":77.0},{"x":9.98,"y":2180,"v":78.0},{"x":10.06,"y":2180,"v":78.8},{"x":10.14,"y":2180,"v":79.5},{"x":10.22,"y":2180,"v":80.1},{"x":10.30,"y":2180,"v":80.5},{"x":10.38,"y":2180,"v":80.8},{"x":10.46,"y":2180,"v":80.9},{"x":10.54,"y":2180,"v":80.9},{"x":10.62,"y":2180,"v":80.7},{"x":10.70,"y":2180,"v":80.3},{"x":10.78,"y":2180,"v":79.9},{"x":10.86,"y":2180,"v":79.2},{"x":10.94,"y":2180,"v":78.5},{"x":11.02,"y":2180,"v":77.5},{"x":11.10,"y":2180,"v":76.5},{"x":11.18,"y":2180,"v":75.3},{"x":11.26,"y":2180,"v":73.9},{"x":11.34,"y":2180,"v":72.4},{"x":11.42,"y":2180,"v":70.7},
{"x":9.58,"y":2260,"v":70.6},{"x":9.66,"y":2260,"v":72.1},{"x":9.74,"y":2260,"v":73.6},{"x":9.82,"y":2260,"v":74.9},{"x":9.90,"y":2260,"v":76.0},{"x":9.98,"y":2260,"v":77.0},{"x":10.06,"y":2260,"v":77.9},{"x":10.14,"y":2260,"v":78.6},{"x":10.22,"y":2260,"v":79.1},{"x":10.30,"y":2260,"v":79.5},{"x":10.38,"y":2260,"v":79.8},{"x":10.46,"y":2260,"v":79.9},{"x":10.54,"y":2260,"v":79.9},{"x":10.62,"y":2260,"v":79.7},{"x":10.70,"y":2260,"v":79.3},{"x":10.78,"y":2260,"v":78.8},{"x":10.86,"y":2260,"v":78.2},{"x":10.94,"y":2260,"v":77.4},{"x":11.02,"y":2260,"v":76.5},{"x":11.10,"y":2260,"v":75.4},{"x":11.18,"y":2260,"v":74.2},{"x":11.26,"y":2260,"v":72.8},{"x":11.34,"y":2260,"v":71.3},{"x":11.42,"y":2260,"v":69.6},
{"x":9.58,"y":2340,"v":69.5},{"x":9.66,"y":2340,"v":71.1},{"x":9.74,"y":2340,"v":72.6},{"x":9.82,"y":2340,"v":73.8},{"x":9.90,"y":2340,"v":75.0},{"x":9.98,"y":2340,"v":76.0},{"x":10.06,"y":2340,"v":76.8},{"x":10.14,"y":2340,"v":77.5},{"x":10.22,"y":2340,"v":78.0},{"x":10.30,"y":2340,"v":78.4},{"x":10.38,"y":2340,"v":78.7},{"x":10.46,"y":2340,"v":78.8},{"x":10.54,"y":2340,"v":78.7},{"x":10.62,"y":2340,"v":78.5},{"x":10.70,"y":2340,"v":78.2},{"x":10.78,"y":2340,"v":77.7},{"x":10.86,"y":2340,"v":77.1},{"x":10.94,"y":2340,"v":76.3},{"x":11.02,"y":2340,"v":75.3},{"x":11.10,"y":2340,"v":74.3},{"x":11.18,"y":2340,"v":73.0},{"x":11.26,"y":2340,"v":71.6},{"x":11.34,"y":2340,"v":70.1},{"x":11.42,"y":2340,"v":68.4},
{"x":9.58,"y":2420,"v":68.4},{"x":9.66,"y":2420,"v":70.0},{"x":9.74,"y":2420,"v":71.4},{"x":9.82,"y":2420,"v":72.7},{"x":9.90,"y":2420,"v":73.8},{"x":9.98,"y":2420,"v":74.8},{"x":10.06,"y":2420,"v":75.6},{"x":10.14,"y":2420,"v":76.3},{"x":10.22,"y":2420,"v":76.8},{"x":10.30,"y":2420,"v":77.2},{"x":10.38,"y":2420,"v":77.5},{"x":10.46,"y":2420,"v":77.6},{"x":10.54,"y":2420,"v":77.5},{"x":10.62,"y":2420,"v":77.3},{"x":10.70,"y":2420,"v":77.0},{"x":10.78,"y":2420,"v":76.5},{"x":10.86,"y":2420,"v":75.8},{"x":10.94,"y":2420,"v":75.0},{"x":11.02,"y":2420,"v":74.1},{"x":11.10,"y":2420,"v":73.0},{"x":11.18,"y":2420,"v":71.7},{"x":11.26,"y":2420,"v":70.3},{"x":11.34,"y":2420,"v":68.8},{"x":11.42,"y":2420,"v":67.1}
]},
"mark":{"type":"rect","width":19.36,"height":13.4,"opacity":0.5,"clip":true}},
{"data":{"values":[
{"c":"a","o":1,"x":10.390,"y":1597},{"c":"a","o":2,"x":10.505,"y":1652},{"c":"a","o":3,"x":10.604,"y":1622},{"c":"a","o":4,"x":10.655,"y":1489},{"c":"a","o":5,"x":10.611,"y":1360},{"c":"a","o":6,"x":10.505,"y":1338},{"c":"a","o":7,"x":10.404,"y":1388},{"c":"a","o":8,"x":10.381,"y":1473},{"c":"a","o":9,"x":10.390,"y":1597},
{"c":"b","o":1,"x":10.478,"y":2271},{"c":"b","o":2,"x":10.593,"y":2260},{"c":"b","o":3,"x":10.635,"y":2250},{"c":"b","o":4,"x":10.720,"y":2220},{"c":"b","o":5,"x":10.781,"y":2190},{"c":"b","o":6,"x":10.844,"y":2150},{"c":"b","o":7,"x":10.958,"y":2050},{"c":"b","o":8,"x":11.016,"y":1980},{"c":"b","o":9,"x":11.068,"y":1900},{"c":"b","o":10,"x":11.118,"y":1800},{"c":"b","o":11,"x":11.153,"y":1700},{"c":"b","o":12,"x":11.176,"y":1600},{"c":"b","o":13,"x":11.187,"y":1500},{"c":"b","o":14,"x":11.187,"y":1400},{"c":"b","o":15,"x":11.175,"y":1300},{"c":"b","o":16,"x":11.151,"y":1200},{"c":"b","o":17,"x":11.112,"y":1100},{"c":"b","o":18,"x":11.068,"y":1020},{"c":"b","o":19,"x":11.018,"y":950},{"c":"b","o":20,"x":10.914,"y":850},{"c":"b","o":21,"x":10.856,"y":810},{"c":"b","o":22,"x":10.798,"y":780},{"c":"b","o":23,"x":10.717,"y":750},{"c":"b","o":24,"x":10.675,"y":740},{"c":"b","o":25,"x":10.562,"y":729},{"c":"b","o":26,"x":10.447,"y":740},{"c":"b","o":27,"x":10.405,"y":750},{"c":"b","o":28,"x":10.320,"y":780},{"c":"b","o":29,"x":10.259,"y":810},{"c":"b","o":30,"x":10.196,"y":850},{"c":"b","o":31,"x":10.082,"y":950},{"c":"b","o":32,"x":10.024,"y":1020},{"c":"b","o":33,"x":9.972,"y":1100},{"c":"b","o":34,"x":9.922,"y":1200},{"c":"b","o":35,"x":9.887,"y":1300},{"c":"b","o":36,"x":9.864,"y":1400},{"c":"b","o":37,"x":9.853,"y":1500},{"c":"b","o":38,"x":9.853,"y":1600},{"c":"b","o":39,"x":9.865,"y":1700},{"c":"b","o":40,"x":9.889,"y":1800},{"c":"b","o":41,"x":9.928,"y":1900},{"c":"b","o":42,"x":9.972,"y":1980},{"c":"b","o":43,"x":10.023,"y":2050},{"c":"b","o":44,"x":10.126,"y":2150},{"c":"b","o":45,"x":10.184,"y":2190},{"c":"b","o":46,"x":10.242,"y":2220},{"c":"b","o":47,"x":10.323,"y":2250},{"c":"b","o":48,"x":10.365,"y":2260},{"c":"b","o":49,"x":10.478,"y":2271},
{"c":"c","o":1,"x":9.5,"y":2152},{"c":"c","o":2,"x":9.5225,"y":2200},{"c":"c","o":3,"x":9.577,"y":2300},{"c":"c","o":4,"x":9.646,"y":2400},{"c":"c","o":5,"x":9.731,"y":2500},
{"c":"d","o":1,"x":11.2,"y":2500},{"c":"d","o":2,"x":11.296,"y":2400},{"c":"d","o":3,"x":11.376,"y":2300},{"c":"d","o":4,"x":11.441,"y":2200},{"c":"d","o":5,"x":11.47,"y":2150},{"c":"d","o":6,"x":11.5,"y":2090},
{"c":"e","o":1,"x":9.5,"y":1000},{"c":"e","o":2,"x":9.52,"y":950},{"c":"e","o":3,"x":9.544,"y":900},{"c":"e","o":4,"x":9.599,"y":800},{"c":"e","o":5,"x":9.6645,"y":700},{"c":"e","o":6,"x":9.744,"y":600},{"c":"e","o":7,"x":9.84,"y":500},
{"c":"f","o":1,"x":11.309,"y":500},{"c":"f","o":2,"x":11.394,"y":600},{"c":"f","o":3,"x":11.463,"y":700},{"c":"f","o":4,"x":11.5,"y":768}
]},
"mark":{"type":"line","strokeWidth":0.9,"interpolate":"linear","clip":true},
"encoding":{"color":{"value":"#111"},"detail":{"field":"c"},"order":{"field":"o","type":"quantitative"}}},
{"data":{"values":[
{"x":9.599,"y":2379,"t":"70","k":"s"},{"x":11.367,"y":2334,"t":"70","k":"s"},{"x":9.662,"y":732,"t":"70","k":"s"},{"x":11.403,"y":642,"t":"70","k":"s"},{"x":10.281,"y":834,"t":"79.7474","k":"l"},{"x":10.402,"y":1443,"t":"84.6814","k":"l"}
]},
"layer":[
{"transform":[{"filter":"datum.k=='s'"}],"mark":{"type":"rect","width":17,"height":11,"fill":"white","stroke":"#333","strokeWidth":0.8},"encoding":{"color":{"value":"white"}}},
{"transform":[{"filter":"datum.k=='l'"}],"mark":{"type":"rect","width":46,"height":12,"fill":"white","stroke":"#333","strokeWidth":0.8},"encoding":{"color":{"value":"white"}}},
{"mark":{"type":"text","font":"Liberation Sans","fontSize":11,"align":"center","baseline":"middle","dy":0.5},"encoding":{"text":{"field":"t"},"color":{"value":"#000"}}}
]}
]
}
